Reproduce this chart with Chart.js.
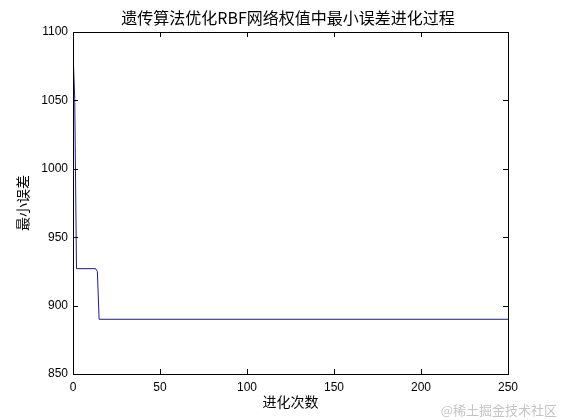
<!DOCTYPE html>
<html>
<head>
<meta charset="utf-8">
<script src="https://cdn.jsdelivr.net/npm/chart.js@4.4.1/dist/chart.umd.min.js"></script>
<style>
  html, body { margin: 0; padding: 0; background: #fff; }
  #wrap { width: 561px; height: 420px; }
</style>
</head>
<body>
<div id="wrap"><canvas id="gaChart"></canvas></div>
<script>
// generation index and the best error
const generations = [0, 1, 2, 13, 14, 15, 250];
const minError = [1086, 1051, 927, 927, 925, 890, 890];

const xTicks = [0, 50, 100, 150, 200, 250];
const yTicks = [850, 900, 950, 1000, 1050, 1100];

const titleText = "遗传算法优化RBF网络权值中最小误差进化过程";
const xTitle = "进化次数";
const yTitle = "最小误差";
const watermark = "@稀土掘金技术社区";

const points = generations.map((g, i) => ({ x: g, y: minError[i] }));

// matlab style box with inward tick marks, title over the axes box
const boxTicks = {
    id: "boxTicks",
    afterDatasetsDraw(chart) {
        const { ctx, chartArea: a, scales } = chart;
        const len = 5;
        ctx.save();
        ctx.strokeStyle = "#000";
        ctx.lineWidth = 1;
        ctx.beginPath();
        xTicks.forEach(v => {
            const px = Math.round(scales.x.getPixelForValue(v)) + 0.5;
            ctx.moveTo(px, a.bottom); ctx.lineTo(px, a.bottom - len);
            ctx.moveTo(px, a.top); ctx.lineTo(px, a.top + len);
        });
        yTicks.forEach(v => {
            const py = Math.round(scales.y.getPixelForValue(v)) + 0.5;
            ctx.moveTo(a.left, py); ctx.lineTo(a.left + len, py);
            ctx.moveTo(a.right, py); ctx.lineTo(a.right - len, py);
        });
        ctx.stroke();
        ctx.strokeRect(Math.round(a.left) + 0.5, Math.round(a.top) + 0.5,
            Math.round(a.right - a.left), Math.round(a.bottom - a.top));
        ctx.restore();
    },
    afterDraw(chart) {
        const ctx = chart.ctx;
        ctx.save();
        ctx.fillStyle = "#000";
        ctx.textAlign = "center";
        ctx.textBaseline = "middle";
        ctx.font = "16px 'Noto Sans CJK SC'";
        ctx.fillText(titleText, 288, 18);
        ctx.font = "13px 'Noto Sans CJK SC'";
        ctx.fillStyle = "#c4c4c4";
        ctx.textAlign = "right";
        ctx.fillText(watermark, 557, 410);
        ctx.restore();
    }
};

const tickFont = { family: "'Liberation Sans', Arial", size: 12 };
const cjkFont = { family: "'Noto Sans CJK SC'", size: 14 };

new Chart(document.getElementById("gaChart"), {
    type: "line",
    data: {
        datasets: [{
            data: points,
            borderColor: "#1a1a8c",
            borderWidth: 1,
            pointRadius: 0,
            tension: 0,
            fill: false
        }]
    },
    options: {
        responsive: true,
        maintainAspectRatio: false,
        animation: false,
        layout: { padding: { left: 0, right: 53, top: 32, bottom: 0 } },
        plugins: {
            legend: { display: false },
            tooltip: { enabled: false },
            title: { display: false }
        },
        scales: {
            x: {
                type: "linear",
                min: 0,
                max: 250,
                grid: { display: false, drawTicks: false },
                border: { display: false },
                afterBuildTicks: s => { s.ticks = xTicks.map(v => ({ value: v })); },
                afterFit: s => { s.height = 46; },
                ticks: { color: "#000", font: tickFont, padding: 6, maxRotation: 0,
                    callback: v => String(v) },
                title: {
                    display: true,
                    text: xTitle,
                    color: "#000",
                    font: cjkFont,
                    padding: { top: 0, bottom: 10 }
                }
            },
            y: {
                min: 850,
                max: 1100,
                grid: { display: false, drawTicks: false },
                border: { display: false },
                afterBuildTicks: s => { s.ticks = yTicks.map(v => ({ value: v })); },
                afterFit: s => { s.width = 73; },
                ticks: { color: "#000", font: tickFont, padding: 5,
                    callback: v => String(v) },
                title: {
                    display: true,
                    text: yTitle,
                    color: "#000",
                    font: cjkFont,
                    padding: { top: 14, bottom: 0 }
                }
            }
        }
    },
    plugins: [boxTicks]
});
</script>
</body>
</html>
